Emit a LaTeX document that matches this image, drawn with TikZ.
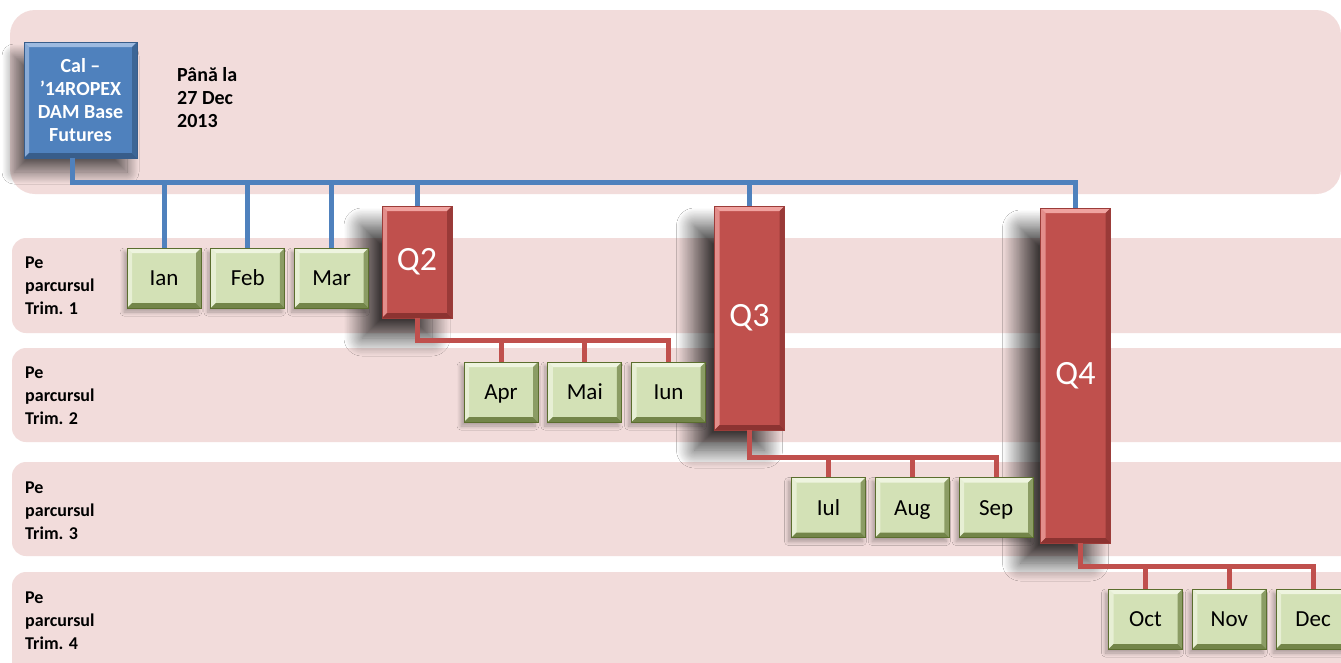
\documentclass[tikz,border=0pt]{standalone}
\usepackage{fontspec}
\setmainfont{Carlito}
\usetikzlibrary{positioning, shadows.blur}
\definecolor{bandpink}{HTML}{F2DCDB}
\definecolor{calblue}{HTML}{4F81BD}
\definecolor{callight}{HTML}{9DBAE0}
\definecolor{caldark}{HTML}{385D8A}
\definecolor{qred}{HTML}{C0504D}
\definecolor{qlight}{HTML}{F0A3A0}
\definecolor{qdark}{HTML}{8C3331}
\definecolor{mfill}{HTML}{D3E1B6}
\definecolor{mlight}{HTML}{EEF4DF}
\definecolor{mdark}{HTML}{5B6E2E}

\tikzset{
  bevel/.style 2 args={path picture={
    \coordinate (bnw) at (path picture bounding box.north west);
    \coordinate (bne) at (path picture bounding box.north east);
    \coordinate (bsw) at (path picture bounding box.south west);
    \coordinate (bse) at (path picture bounding box.south east);
    \fill[#1] (bnw) -- (bne) -- ([shift={(-5pt,-5pt)}]bne) -- ([shift={(5pt,-5pt)}]bnw) -- cycle;
    \fill[#1, opacity=.75] (bnw) -- ([shift={(5pt,-5pt)}]bnw) -- ([shift={(5pt,5pt)}]bsw) -- (bsw) -- cycle;
    \fill[#2] (bsw) -- (bse) -- ([shift={(-5pt,5pt)}]bse) -- ([shift={(5pt,5pt)}]bsw) -- cycle;
    \fill[#2, opacity=.75] (bne) -- (bse) -- ([shift={(-5pt,5pt)}]bse) -- ([shift={(-5pt,-5pt)}]bne) -- cycle;
  }},
  calbox/.style={fill=calblue, draw=caldark, line width=0.8pt, text=white, align=center,
    font=\fontsize{20}{23}\selectfont\bfseries, minimum width=113pt, minimum height=116pt,
    inner sep=0pt, bevel={callight}{caldark},
    blur shadow={shadow xshift=-10pt, shadow yshift=-14pt, shadow blur radius=12pt,
      shadow blur steps=30, shadow opacity=60}},
  qbox/.style={fill=qred, draw=qdark!70!qred, line width=0.8pt, text=white,
    font=\fontsize{34}{34}\selectfont, minimum width=70pt, inner sep=0pt, bevel={qlight}{qdark},
    blur shadow={shadow xshift=-20pt, shadow yshift=-20pt, shadow blur radius=18pt,
      shadow blur steps=30, shadow opacity=75}},
  monthbox/.style={fill=mfill, draw=mdark, line width=0.8pt, font=\fontsize{23}{23}\selectfont,
    minimum width=74pt, minimum height=60pt, text height=15pt, text depth=0pt, inner sep=0pt,
    bevel={mlight}{mdark!80!mfill},
    blur shadow={shadow xshift=-3pt, shadow yshift=-4pt, shadow blur radius=4pt,
      shadow blur steps=10, shadow opacity=30}},
  rowlabel/.style={anchor=north west, align=left, inner sep=0pt, font=\fontsize{18}{23}\selectfont\bfseries},
  bluebus/.style={draw=calblue, line width=5pt},
  redbus/.style={draw=qred, line width=5pt},
}

\begin{document}
\begin{tikzpicture}[x=1pt, y=-1pt, node distance=9pt]
  \clip (0,0) rectangle (1341,662);
  \fill[white] (0,0) rectangle (1341,662);

  % bands
  \fill[bandpink, rounded corners=25pt] (10,10) rectangle (1341,194);
  \foreach \t/\b in {238/333, 348/442, 462/556, 572/690}
    \fill[bandpink, rounded corners=14pt] (12,\t) rectangle (1380,\b);

  \node[rowlabel] (trim1) at (25,257) {Pe\\parcursul\\Trim. 1};
  \node[rowlabel] (trim2) at (25,367) {Pe\\parcursul\\Trim. 2};
  \node[rowlabel] (trim3) at (25,482) {Pe\\parcursul\\Trim. 3};
  \node[rowlabel] (trim4) at (25,592) {Pe\\parcursul\\Trim. 4};

  % calendar product
  \node[calbox] (cal) at (80.5,100) {Cal –\\’14ROPEX\\DAM Base\\Futures};
  \node[rowlabel, font=\fontsize{20}{23}\selectfont\bfseries] (pana) at (177,67) {Până la\\27 Dec\\2013};

  % quarters
  \node[qbox, minimum height=112pt] (q2) at (417,262) {Q2};
  \node[qbox, minimum height=224pt] (q3) at (749.5,318) {Q3};
  \node[qbox, minimum height=335pt] (q4) at (1075.5,375.5) {Q4};

  % months
  \node[monthbox] (ian) at (164,278) {Ian};
  \node[monthbox, right=of ian] (feb) {Feb};
  \node[monthbox, right=of feb] (mar) {Mar};
  \node[monthbox] (apr) at (501,392) {Apr};
  \node[monthbox, right=of apr] (mai) {Mai};
  \node[monthbox, right=of mai] (iun) {Iun};
  \node[monthbox] (iul) at (828.5,507.5) {Iul};
  \node[monthbox, right=of iul] (aug) {Aug};
  \node[monthbox, right=of aug] (sep) {Sep};
  \node[monthbox] (oct) at (1145.5,619) {Oct};
  \node[monthbox, right=of oct] (nov) {Nov};
  \node[monthbox, right=of nov] (dec) {Dec};

  % blue tree
  \coordinate (bus) at (0,182);
  \draw[bluebus] ([xshift=-8pt]cal.south) |- (bus -| q4.north) -- (q4.north);
  \foreach \m in {ian,feb,mar,q2,q3}
    \draw[bluebus] (bus -| \m.north) -- (\m.north);

  % red trees
  \draw[redbus] (q2.south) -- ++(0,22) coordinate (q2bus) -| (iun.north);
  \foreach \m in {apr,mai}
    \draw[redbus] (\m.north) -- (\m.north |- q2bus);
  \draw[redbus] (q3.south) -- ++(0,27) coordinate (q3bus) -| (sep.north);
  \foreach \m in {iul,aug}
    \draw[redbus] (\m.north) -- (\m.north |- q3bus);
  \draw[redbus] ([xshift=5pt]q4.south) -- ++(0,23) coordinate (q4bus) -| (dec.north);
  \foreach \m in {oct,nov}
    \draw[redbus] (\m.north) -- (\m.north |- q4bus);
\end{tikzpicture}
\end{document}
